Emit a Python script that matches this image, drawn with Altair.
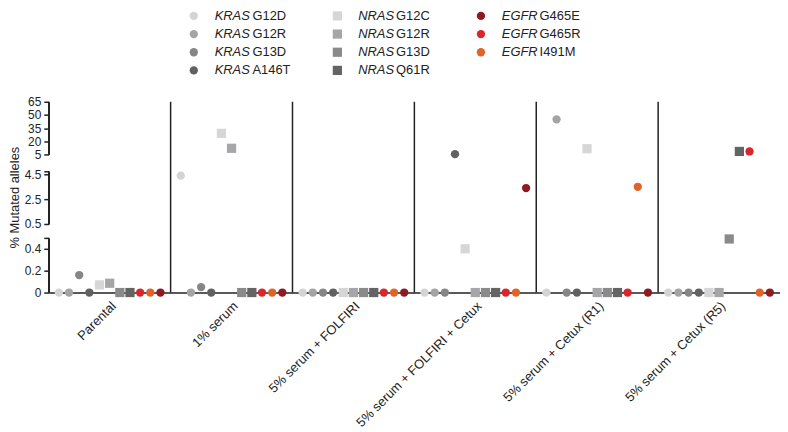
import altair as alt
import pandas as pd

conditions = [
    "Parental",
    "1% serum",
    "5% serum + FOLFIRI",
    "5% serum + FOLFIRI + Cetux",
    "5% serum + Cetux (R1)",
    "5% serum + Cetux (R5)",
]

# % mutated alleles, one value per condition (same order as above)
kras_g12d = [0, 4.4, 0, 0, 0, 0]
kras_g12r = [0, 0, 0, 0, 45, 0]
kras_g13d = [0.16, 0.05, 0, 0, 0, 0]
kras_a146t = [0, 0, 0, 5.3, 0, 0]
nras_g12c = [0.07, 29, 0, 0.4, 11.5, 0]
nras_g12r = [0.085, 12, 0, 0, 0, 0]
nras_g13d = [0, 0, 0, 0, 0, 0.49]
nras_q61r = [0, 0, 0, 0, 0, 8.4]
egfr_g465e = [0, 0, 0, 3.4, 0, 0]
egfr_g465r = [0, 0, 0, 0, 0, 8.4]
egfr_i491m = [0, 0, 0, 0, 3.5, 0]

genes = ["KRAS", "NRAS", "EGFR"]
series = [
    ("KRAS", "G12D", kras_g12d),
    ("KRAS", "G12R", kras_g12r),
    ("KRAS", "G13D", kras_g13d),
    ("KRAS", "A146T", kras_a146t),
    ("NRAS", "G12C", nras_g12c),
    ("NRAS", "G12R", nras_g12r),
    ("NRAS", "G13D", nras_g13d),
    ("NRAS", "Q61R", nras_q61r),
    ("EGFR", "G465E", egfr_g465e),
    ("EGFR", "G465R", egfr_g465r),
    ("EGFR", "I491M", egfr_i491m),
]
series_names = [f"{g} {m}" for g, m, _ in series]
# order of the dots inside each condition
plot_order = series_names[:8] + ["EGFR G465R", "EGFR I491M", "EGFR G465E"]

colors = ["#d4d4d4", "#a4a4a7", "#868686", "#616161",
          "#d6d6d6", "#a6a6a9", "#8a8a8a", "#646464",
          "#8e1b22", "#d9262c", "#e0642a"]

# broken y axis: three pieces
seg_start = [0, 0.5, 5]
seg_end = [0.4999, 4.75, 65]
tick_values = [0, 0.2, 0.4, 0.4999, 0.5, 2.5, 4.5, 4.75, 5, 20, 35, 50, 65]

INK = "#222222"
W, H = 736, 192
Y_TITLE = "% Mutated alleles"

rows = []
for name in plot_order:
    g, m, vals = next(s for s in series if f"{s[0]} {s[1]}" == name)
    for cond, v in zip(conditions, vals):
        rows.append({"condition": cond, "series": name, "gene": g, "mutation": m,
                     "marker": "square" if g == "NRAS" else "circle", "value": v})
df = pd.DataFrame(rows)

legend_df = pd.DataFrame([
    {"series": f"{g} {m}", "gene": g, "mutation": m,
     "marker": "square" if g == "NRAS" else "circle",
     "row": [s[1] for s in series if s[0] == g].index(m)}
    for g, m, v in series
])

# vertical lines at the left edge of each band: the broken axis pieces on the
# first band, a full-height separator on every other band
rule_df = pd.DataFrame(
    [{"condition": conditions[0], "lo": a, "hi": b} for a, b in zip(seg_start, seg_end)]
    + [{"condition": c, "lo": 0, "hi": 65} for c in conditions[1:]]
)

color = alt.Color("series:N", scale=alt.Scale(domain=series_names, range=colors), legend=None)
shape = alt.Shape("marker:N", scale=alt.Scale(domain=["circle", "square"], range=["circle", "square"]), legend=None)
size = alt.Size("marker:N", scale=alt.Scale(domain=["circle", "square"], range=[70, 86]), legend=None)

y_scale = alt.Scale(domain=[0, 0.4999, 0.5, 4.75, 5, 65], range=[H, 137, 123, 70, 53, 0],
                    nice=False, zero=False)
x_scale = alt.Scale(paddingInner=0, paddingOuter=0)

# same axis objects in every layer so the merged axes keep these settings
x_axis = alt.Axis(labelAngle=-45, ticks=False, domainColor=INK, domainWidth=1.5,
                  labelFontSize=13, labelColor=INK, labelPadding=7,
                  labelLimit=300, labelOverlap=False, grid=False)
y_axis = alt.Axis(
    values=tick_values,
    format="~g",
    labelExpr="datum.value == 0.4999 || datum.value == 4.75 ? '' : datum.label",
    # axis line drawn from the bottom up, dashed so that it leaves the two breaks open
    domain=True, domainColor=INK, domainWidth=1.5, domainDash=[55, 14, 53, 17, 53],
    grid=False,
    tickColor=INK, tickWidth=1.5, tickSize=5,
    labelFontSize=12, labelColor=INK, labelPadding=3,
    labelOverlap=False, labelFlush=False,
    titleFontSize=13, titleFontWeight="normal", titleColor=INK, titlePadding=3,
)

band_rules = (
    alt.Chart(rule_df)
    .mark_rule(color=INK, strokeWidth=1.5)
    .encode(
        x=alt.X("condition:N", sort=conditions, bandPosition=0, title=None,
                scale=x_scale, axis=x_axis),
        y=alt.Y("lo:Q", title=Y_TITLE, scale=y_scale, axis=y_axis),
        y2="hi:Q",
    )
)

points = (
    alt.Chart(df)
    .mark_point(filled=True, opacity=1)
    .encode(
        x=alt.X("condition:N", sort=conditions, title=None, scale=x_scale, axis=x_axis),
        xOffset=alt.XOffset("series:N", sort=plot_order,
                            scale=alt.Scale(domain=plot_order, paddingInner=0, paddingOuter=1)),
        y=alt.Y("value:Q", title=Y_TITLE, scale=y_scale, axis=y_axis),
        color=color,
        shape=shape,
        size=size,
    )
)

main = alt.layer(points, band_rules).properties(width=W, height=H)

leg_base = alt.Chart(legend_df).encode(
    x=alt.X("gene:N", scale=alt.Scale(domain=genes, range=[146, 435], padding=0), axis=None),
    y=alt.Y("row:O", scale=alt.Scale(padding=0.36), axis=None),
)
leg_points = leg_base.mark_point(filled=True, opacity=1).encode(color=color, shape=shape, size=size)
leg_gene = leg_base.mark_text(align="left", baseline="middle", dx=21, fontSize=13,
                              fontStyle="italic", color=INK).encode(text="gene:N")
leg_mut = leg_base.mark_text(align="left", baseline="middle", dx=59, fontSize=13,
                             color=INK).encode(text="mutation:N")
legend = alt.layer(leg_points, leg_gene, leg_mut).properties(width=W, height=68)

chart = (
    alt.vconcat(legend, main, spacing=25, bounds="flush")
    .resolve_scale(x="independent", y="independent")
    .properties(padding={"top": 0, "left": 0, "right": 0, "bottom": 2})
    .configure(font="Liberation Sans")
    .configure_view(stroke=None)
)

chart.save("out.html", embed_options={"renderer": "svg", "actions": False})
